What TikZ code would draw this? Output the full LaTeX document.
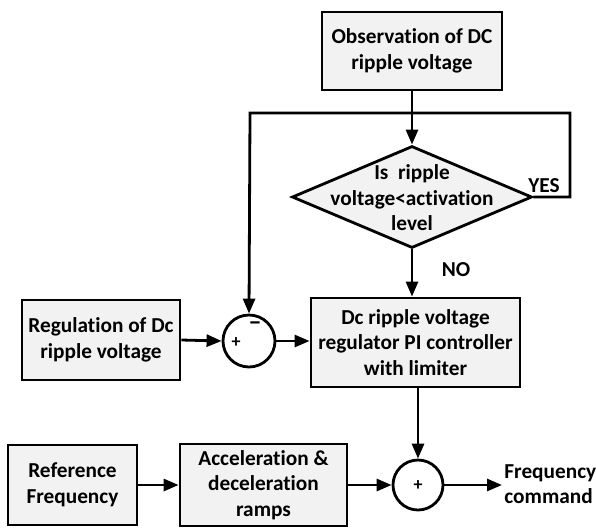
\documentclass[tikz,border=0pt]{standalone}
\usepackage{fontspec}
\setmainfont{Carlito}[Ligatures=NoCommon,RawFeature=-liga]
\usetikzlibrary{arrows.meta,shapes.geometric}
\definecolor{boxfill}{HTML}{F2F2F2}
\begin{document}
\begin{tikzpicture}[x=1pt,y=-1pt,
  font=\fontsize{21.3}{25.5}\selectfont\bfseries,
  every node/.style={line width=2.8pt},
  blk/.style={draw,fill=boxfill,align=center,inner sep=0pt},
  sumc/.style={draw,circle,fill=white,minimum size=51pt,inner sep=0pt},
  dec/.style={draw,fill=boxfill,diamond,minimum width=240pt,minimum height=102pt,inner sep=0pt},
  conn/.style={line width=2.8pt,-{Triangle[length=15pt,width=12pt]}},
  sgn/.style={font=\fontsize{18}{20}\selectfont\bfseries,inner sep=0pt}]
\useasboundingbox (0,0) rectangle (596,528);

\node[blk,minimum width=180pt,minimum height=78pt] (obs) at (412,51) {Observation of DC\\ripple voltage};
\node[dec] (dia) at (412,197) {};
\node[align=center,inner sep=0pt] (diatext) at (412,198) {Is\ \ ripple\\voltage<activation\\level};
\node[blk,minimum width=209pt,minimum height=89pt] (pi) at (415.5,342.5) {Dc ripple voltage\\regulator PI controller\\with limiter};
\node[blk,minimum width=158pt,minimum height=80pt] (reg) at (101,340) {Regulation of Dc\\ripple voltage};
\node[sumc,minimum size=52pt] (s1) at (249,341) {};
\node[sgn] (s1p) at (236,343) {+};
\node[sgn,font=\fontsize{24}{24}\selectfont\bfseries] (s1m) at (255,326) {−};
\node[blk,minimum width=129pt,minimum height=80pt] (ref) at (72.5,485) {Reference\\Frequency};
\node[blk,minimum width=167pt,minimum height=82pt] (acc) at (263.5,485) {Acceleration \&\\deceleration\\ramps};
\node[sumc,minimum size=50pt] (s2) at (418,485) {};
\node[sgn] (s2p) at (418,486) {+};
\node[align=left,anchor=west,inner sep=0pt] (fc) at (503,484) {Frequency\\command};
\node[inner sep=0pt] (yes) at (544,186) {YES};
\node[inner sep=0pt] (no) at (456,270) {NO};

\coordinate (c1) at (570,197);
\coordinate (c2) at (570,113);
\coordinate (c3) at (250,113);
\coordinate (out) at (502,485);

\draw[conn] (obs.south) -- (dia.north);
\draw[conn] (dia.east) -- (c1) -- (c2) -- (c3) -- (s1.north);
\draw[conn] (dia.south) -- (dia.south |- pi.north);
\draw[conn] (reg.east) -- (s1.west);
\draw[conn] (s1.east) -- (s1.east -| pi.west);
\draw[conn] (s2.north |- pi.south) -- (s2.north);
\draw[conn] (ref.east) -- (acc.west);
\draw[conn] (acc.east) -- (s2.west);
\draw[conn] (s2.east) -- (out);
\end{tikzpicture}
\end{document}
